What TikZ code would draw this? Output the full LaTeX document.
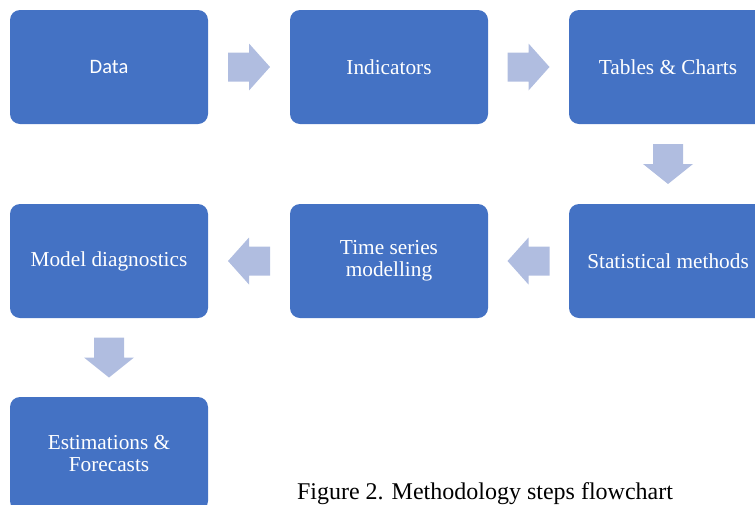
\documentclass[tikz,border=0pt]{standalone}
\usepackage{fontspec}
\setmainfont{Liberation Serif}
\newfontfamily\calibrifont{Carlito}
\usetikzlibrary{calc}
\definecolor{boxblue}{HTML}{4472C4}
\definecolor{arrowc}{HTML}{B0BDE0}
\tikzset{
  stepbox/.style={draw=none, fill=boxblue, rounded corners=10pt, minimum width=198pt, minimum height=114pt,
    inner sep=0pt, text=white, align=center, font=\fontsize{21.3}{22}\selectfont},
  harrow/.pic={\fill[arrowc] (-21,-14.5) -- (0,-14.5) -- (0,-23.5) -- (21,0) -- (0,23.5) -- (0,14.5) -- (-21,14.5) -- cycle;},
  varrow/.pic={\fill[arrowc] (-15,-20) -- (15,-20) -- (15,0) -- (25,0) -- (0,20) -- (-25,0) -- (-15,0) -- cycle;}
}
\begin{document}
\begin{tikzpicture}[x=1pt,y=-1pt]
\useasboundingbox (0,0) rectangle (755,504);
\clip (0,0) rectangle (755,504);
\node[stepbox, font=\calibrifont\fontsize{20.5}{22}\selectfont] (a) at (109,67) {Data};
\node[stepbox] (b) at (389,67) {Indicators};
\node[stepbox] (c) at (668,67) {Tables \& Charts};
\node[stepbox] (d) at (668,261) {Statistical methods};
\node[stepbox] (e) at (389,261) {Time series\\modelling};
\node[stepbox] (f) at (109,261) {Model diagnostics};
\node[stepbox] (g) at (109,454) {Estimations \&\\Forecasts};
\pic at ($(a.east)!0.5!(b.west)$) {harrow};
\pic at ($(b.east)!0.5!(c.west)$) {harrow};
\pic at ($(c.south)!0.5!(d.north)$) {varrow};
\pic[rotate=180] at ($(d.west)!0.5!(e.east)$) {harrow};
\pic[rotate=180] at ($(e.west)!0.5!(f.east)$) {harrow};
\pic at ($(f.south)!0.5!(g.north)$) {varrow};
\node[anchor=base, font=\fontsize{24}{26}\selectfont, inner sep=0pt] (cap) at (485,499.5) {Figure 2. Methodology steps flowchart};
\end{tikzpicture}
\end{document}
